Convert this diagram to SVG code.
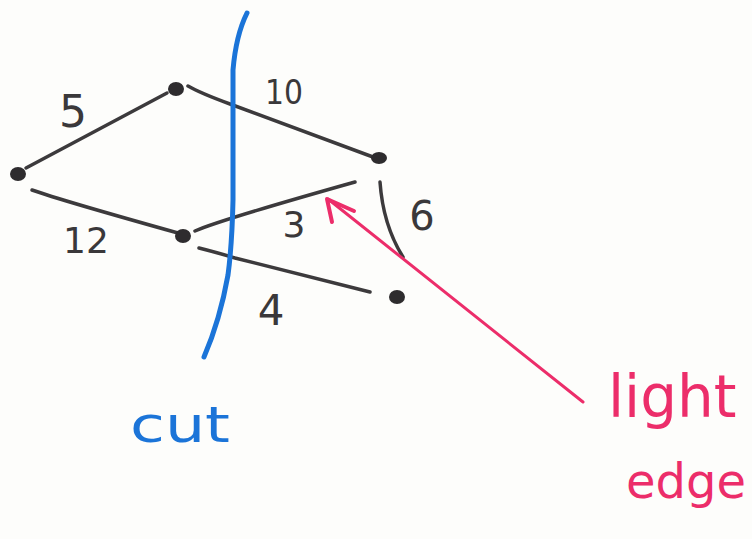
<svg xmlns="http://www.w3.org/2000/svg" width="752" height="539" viewBox="0 0 752 539">
<style>
.edge{fill:none;stroke:#3c3a3c;stroke-width:3.5;stroke-linecap:round}
.node{fill:#2e2c2e}
.num{font-family:"DejaVu Sans",sans-serif;fill:#3a383a;text-anchor:middle}
.pink{font-family:"DejaVu Sans",sans-serif;fill:#ec2d6a}
</style>
<rect width="752" height="539" fill="#fdfdfb"/>
<g id="connectors">
<path class="edge" d="M26,168 L167,93"/>
<path class="edge" d="M188,86 Q200,93 230,104 L373,157"/>
<path class="edge" d="M32,190 Q60,200 178,233"/>
<path class="edge" d="M195,231 Q220,220 355,182"/>
<path class="edge" d="M199,248 Q215,252 235,258 L370,292"/>
<path class="edge" d="M380,182 Q383,225 403,257"/>
</g>
<g id="node-a"><ellipse class="node" cx="18" cy="174" rx="8" ry="7"/></g>
<g id="node-b"><ellipse class="node" cx="176" cy="89" rx="8" ry="7"/></g>
<g id="node-c"><ellipse class="node" cx="183" cy="236" rx="8" ry="7"/></g>
<g id="node-d"><ellipse class="node" cx="379" cy="158" rx="8" ry="6"/></g>
<g id="node-e"><ellipse class="node" cx="397" cy="297" rx="8" ry="7"/></g>
<g id="labels">
<text class="num" x="73" y="127" font-size="44">5</text>
<text class="num" x="284" y="104" font-size="34" textLength="38" lengthAdjust="spacingAndGlyphs">10</text>
<text class="num" x="86" y="253" font-size="36">12</text>
<text class="num" x="294" y="237" font-size="36">3</text>
<text class="num" x="271" y="325" font-size="42">4</text>
<text class="num" x="422" y="230" font-size="40">6</text>
</g>
<g id="cut">
<path d="M247,13 Q236,35 233,70 L233,200 Q232,245 228,275 Q220,320 204,357" fill="none" stroke="#1b74d8" stroke-width="5" stroke-linecap="round"/>
<text x="130" y="442" font-family="DejaVu Sans,sans-serif" font-size="50" fill="#1b74d8" textLength="100" lengthAdjust="spacingAndGlyphs">cut</text>
</g>
<g id="light-edge">
<path d="M583,402 L328,199" fill="none" stroke="#ec2d6a" stroke-width="3" stroke-linecap="round"/>
<path d="M332,222 L327,199 L354,211" fill="none" stroke="#ec2d6a" stroke-width="4" stroke-linecap="round" stroke-linejoin="round"/>
<text class="pink" x="608" y="417" font-size="58">light</text>
<text class="pink" x="626" y="498" font-size="48">edge</text>
</g>
</svg>
